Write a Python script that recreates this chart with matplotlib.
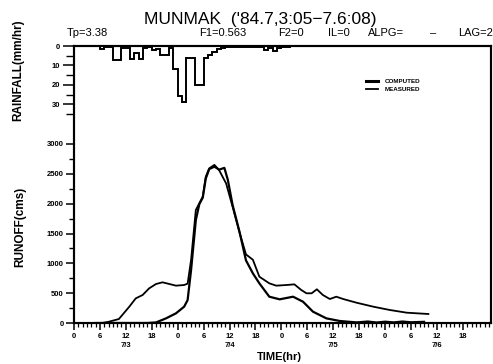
import numpy as np
import matplotlib
matplotlib.use('Agg')
import matplotlib.pyplot as plt
from matplotlib.lines import Line2D

plt.rcParams['font.family'] = ['Liberation Sans', 'DejaVu Sans']

# hourly rainfall (mm/hr), bins start at hour 5 of 7/3
rain_start = 5
rain = [0, 1.5, 0.3, 0.3, 7, 7, 1, 1, 6.5, 3.5, 6.5, 1, 0.5, 2, 1.5, 4.5, 4.5, 1,
        12, 26, 29, 6, 6, 20, 20, 6, 4.5, 3, 1.5, 1, 0.5, 0.5, 0.5, 0.5, 0.5, 0.5,
        0.5, 0.5, 0.5, 2, 1, 2.5, 1, 0.3, 0.3]

# measured runoff (cms)
meas_t = [5, 6.5, 8, 10.4, 12.8, 14.3, 15.9, 17.4, 19, 20.5, 22, 23.6, 25.5, 26.3,
          27.1, 28.2, 29, 29.8, 30.5, 31.3, 32.5, 33.6, 35.2, 36.7, 38.3, 39.8,
          41.4, 42.9, 45.2, 46.8, 49.2, 51, 52.6, 53.8, 55, 56.2, 57.6, 59.2, 60.7,
          62.3, 65.4, 69.3, 73.1, 77, 82]
meas_q = [0, 0, 20, 67, 273, 413, 470, 581, 654, 682, 655, 626, 637, 660,
          1056, 1894, 2006, 2117, 2452, 2592, 2650, 2560, 2340, 1950, 1520, 1150,
          1060, 776, 665, 626, 637, 648, 553, 498, 498, 565, 469, 402, 441,
          402, 340, 273, 218, 173, 151]

# computed runoff (cms)
comp_t = [5, 17, 19, 21.3, 23.6, 25.5, 26.3, 27.1, 28.2, 29, 29.8, 30.5, 31.3,
          32.5, 33.6, 34.8, 35.6, 36.7, 38.3, 39.8, 41.4, 42.9, 45.2, 47.6, 50.7,
          53, 55.3, 58.4, 61.5, 65.4, 68, 70, 72, 74, 76, 78, 81]
comp_q = [0, 0, 10, 78, 162, 274, 385, 888, 1726, 1990, 2100, 2420, 2580,
          2620, 2570, 2600, 2400, 1980, 1530, 1050, 832, 665, 441, 397, 441,
          357, 190, 78, 34, 10, 25, 8, 22, 10, 25, 12, 20]

hour_ticks = list(range(0, 91, 6))
day_labels = {12: '7/3', 36: '7/4', 60: '7/5', 84: '7/6'}

fig = plt.figure(figsize=(4.93, 3.64), dpi=100)
ax = fig.add_axes([0.150, 0.1126, 0.846, 0.761])

ax.plot(meas_t, meas_q, color='k', lw=1.3)
ax.plot(comp_t, comp_q, color='k', lw=1.6)

ax.set_xlim(0, 96.5)
ax.set_ylim(0, 4642)
ax.set_yticks(np.arange(0, 3001, 500))
ax.set_yticks(np.arange(250, 3000, 500), minor=True)
ax.set_xticks(hour_ticks)
ax.set_xticks(range(0, 97), minor=True)
xlabels = []
for h in hour_ticks:
    lab = str(h % 24)
    if h in day_labels:
        lab += '\n' + day_labels[h]
    xlabels.append(lab)
ax.set_xticklabels(xlabels, fontsize=5.5, fontweight='bold', linespacing=1.4)
for t in ax.get_yticklabels():
    t.set_fontsize(5.5)
    t.set_fontweight('bold')
ax.tick_params(axis='x', which='major', length=5, width=1.1, pad=2, direction='out')
ax.tick_params(axis='x', which='minor', length=3, width=0.9, direction='out')
ax.tick_params(axis='y', which='major', length=5.5, width=1.1, pad=2)
ax.tick_params(axis='y', which='minor', length=3.5, width=1)
for s in ax.spines.values():
    s.set_linewidth(1.5)

# rainfall on inverted scale, sharing the same frame
ax2 = ax.twinx()
edges = np.arange(rain_start, rain_start + len(rain) + 1)
ax2.stairs(rain, edges, baseline=0, color='k', lw=1.4)
ax2.set_ylim(142.8, 0)
ax2.yaxis.set_ticks_position('left')
ax2.set_yticks([0, 10, 20, 30])
ax2.set_yticks([5, 15, 25, 35], minor=True)
ax2.set_yticklabels(['0', '10', '20', '30'], fontsize=5.5, fontweight='bold')
ax2.tick_params(axis='y', which='major', length=8, width=1.1, pad=2)
ax2.tick_params(axis='y', which='minor', length=5.5, width=1)
for s in ax2.spines.values():
    s.set_linewidth(1.5)

handles = [Line2D([], [], color='k', lw=2.2), Line2D([], [], color='k', lw=1.3)]
ax.legend(handles, ['COMPUTED', 'MEASURED'], loc='center left',
          bbox_to_anchor=(0.695, 0.858), frameon=False, handlelength=1.8,
          handletextpad=1.2, labelspacing=0.45, borderaxespad=0,
          prop={'size': 4.5, 'weight': 'bold'})

fig.text(0.527, 0.947, "MUNMAK  ('84.7,3:05\u22127.6:08)", fontsize=12.5,
         ha='center', va='center')
params = [("Tp=3.38", 67), ("F1=0.563", 199), ("F2=0", 278), ("IL=0", 328),
          ("ALPG=", 368), ("\u2013", 430), ("LAG=2", 458)]
for txt, px in params:
    fig.text(px / 493, 1 - 33 / 364, txt, fontsize=8, ha='left', va='center')

fig.text(18 / 493, 1 - 70 / 364, 'RAINFALL(mm/hr)', rotation=90, fontsize=8.5,
         fontweight='bold', ha='center', va='center')
fig.text(20 / 493, 1 - 227 / 364, 'RUNOFF(cms)', rotation=90, fontsize=8.5,
         fontweight='bold', ha='center', va='center')
fig.text(279 / 493, 1 - 357 / 364, 'TIME(hr)', fontsize=8, fontweight='bold',
         ha='center', va='center')

fig.savefig('out.png', dpi=100)
